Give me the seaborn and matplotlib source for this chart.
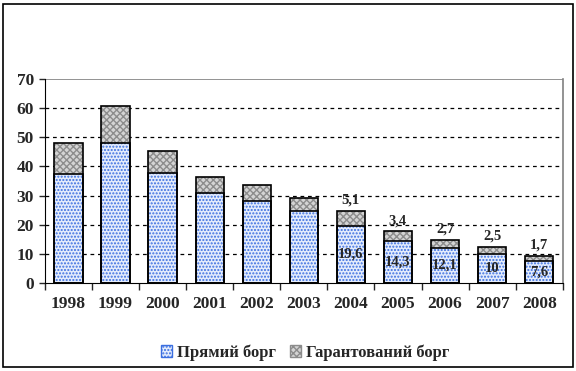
import matplotlib
matplotlib.use("Agg")
import matplotlib.pyplot as plt
import numpy as np
import pandas as pd
import seaborn as sns
from matplotlib.patches import Patch, Rectangle

years = ["1998", "1999", "2000", "2001", "2002", "2003",
         "2004", "2005", "2006", "2007", "2008"]
direct_debt = [37.3, 48.0, 37.7, 30.8, 28.3, 24.6, 19.6, 14.3, 12.1, 10.0, 7.6]
guaranteed_debt = [10.7, 12.7, 7.5, 5.5, 5.2, 4.6, 5.1, 3.4, 2.7, 2.5, 1.7]
labelled_years = ["2004", "2005", "2006", "2007", "2008"]

df = pd.DataFrame({"year": years, "direct": direct_debt,
                   "guaranteed": guaranteed_debt})
df["total"] = df["direct"] + df["guaranteed"]

sns.set_style("white")
plt.rcParams["font.family"] = ["Liberation Serif", "DejaVu Serif"]
plt.rcParams["font.weight"] = "bold"
plt.rcParams["hatch.linewidth"] = 1.0

fig = plt.figure(figsize=(5.76, 3.71), dpi=100)
ax = fig.add_axes([0.078, 0.237, 0.899, 0.55])

BLUE = "#3b6fe0"
BLUE_BG = "#e4ecfc"
GRAY = "#8c8c8c"
GRAY_BG = "#d4d4d4"

# totals (guaranteed sits on top of direct)
sns.barplot(data=df, x="year", y="total", color=GRAY_BG, width=0.6,
            saturation=1, ax=ax, edgecolor=GRAY, linewidth=0,
            hatch="xxxxx", zorder=2)
sns.barplot(data=df, x="year", y="direct", color=BLUE_BG, width=0.6,
            saturation=1, ax=ax, edgecolor=BLUE, linewidth=0,
            hatch=".....", zorder=3)
# outlines
sns.barplot(data=df, x="year", y="total", fill=False, width=0.6, ax=ax,
            edgecolor="black", linewidth=1.2, zorder=4)
sns.barplot(data=df, x="year", y="direct", fill=False, width=0.6, ax=ax,
            edgecolor="black", linewidth=1.2, zorder=4)


def fmt(v):
    s = f"{v:g}"
    return s.replace(".", ",")


for i, row in df.iterrows():
    if row["year"] not in labelled_years:
        continue
    ax.annotate(fmt(row["guaranteed"]), (i, row["total"]),
                xytext=(0, 3), textcoords="offset points",
                ha="center", va="bottom", fontsize=10.5, fontweight="bold")
    ax.text(i, row["direct"] / 2, fmt(row["direct"]), ha="center",
            va="center", fontsize=10.5, fontweight="bold", zorder=5)

ax.set_ylim(0, 70)
ax.set_xlim(-0.5, len(years) - 0.5)
ax.set_yticks(range(0, 71, 10))
ax.set_xlabel("")
ax.set_ylabel("")
for y in range(10, 70, 10):
    ax.axhline(y, color="black", linestyle=(0, (3, 3)), linewidth=0.9,
               zorder=1)
ax.axhline(70, color="#808080", linewidth=1.2, zorder=1)

ax.spines["left"].set_color("black")
ax.spines["bottom"].set_color("black")
ax.spines["top"].set_visible(False)
ax.spines["right"].set_color("#808080")
ax.spines["right"].set_linewidth(1.2)

ax.tick_params(axis="y", length=4, direction="out", left=True,
               labelsize=12.5, width=1, pad=4)
ax.tick_params(axis="x", length=0, labelsize=12.5, pad=9)
ax.set_xticks(np.arange(-0.5, len(years)), minor=True)
ax.tick_params(axis="x", which="minor", length=5, bottom=True, width=1,
               direction="out")
for lab in ax.get_xticklabels() + ax.get_yticklabels():
    lab.set_fontweight("bold")

handles = [
    Patch(facecolor=BLUE_BG, edgecolor=BLUE, hatch=".....", label="Прямий борг"),
    Patch(facecolor=GRAY_BG, edgecolor=GRAY, hatch="xxxxx",
          label="Гарантований борг"),
]
fig.legend(handles=handles, loc="center", bbox_to_anchor=(0.53, 0.05),
           ncol=2, frameon=False, handlelength=0.7, handleheight=0.7,
           handletextpad=0.3, columnspacing=0.8,
           prop={"weight": "bold", "size": 12})

fig.patches.append(Rectangle((0.006, 0.012), 0.988, 0.977,
                             transform=fig.transFigure, fill=False,
                             edgecolor="black", linewidth=1.2))

fig.savefig("out.png", dpi=100)
